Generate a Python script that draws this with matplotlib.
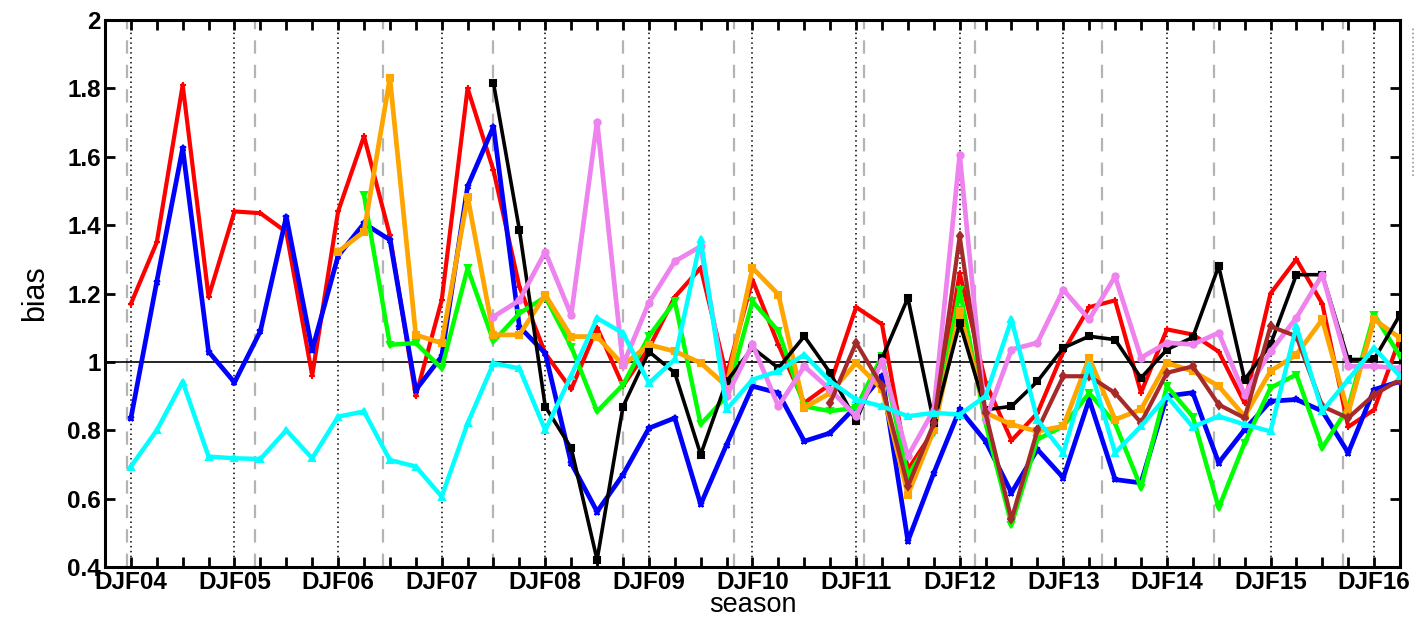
import numpy as np
import matplotlib
matplotlib.use("Agg")
import matplotlib.pyplot as plt
from matplotlib.lines import Line2D

plt.rcParams['font.family'] = ['Liberation Sans', 'DejaVu Sans']

# season index 0 = DJF04, one step per season, 49 = MAM16
n_seasons = 50
tick_labels = ['DJF04', 'DJF05', 'DJF06', 'DJF07', 'DJF08', 'DJF09', 'DJF10',
               'DJF11', 'DJF12', 'DJF13', 'DJF14', 'DJF15', 'DJF16']

# positions (in season index) of the grey dashed marker lines
change_points = [-0.15, 4.79, 9.73, 14.0, 19.0, 23.3, 28.3, 32.6, 37.5, 41.8, 46.8]

red = [1.17, 1.35, 1.81, 1.19, 1.44, 1.435, 1.38, 0.96, 1.44, 1.66,
       1.37, 0.90, 1.18, 1.80, 1.56, 1.22, 1.025, 0.92, 1.10, 0.93,
       1.04, 1.19, 1.275, 0.96, 1.24, 1.05, 0.88, 0.935, 1.16, 1.11,
       0.685, 0.80, 1.26, 0.94, 0.77, 0.85, 1.03, 1.16, 1.18, 0.91,
       1.095, 1.08, 1.03, 0.88, 1.20, 1.30, 1.17, 0.81, 0.86, 1.07]
blue = [0.835, 1.235, 1.625, 1.03, 0.94, 1.09, 1.425, 1.035, 1.31, 1.405,
        1.357, 0.918, 1.016, 1.513, 1.688, 1.103, 1.025, 0.704, 0.562, 0.67,
        0.806, 0.836, 0.583, 0.758, 0.929, 0.909, 0.768, 0.792, 0.87, 0.958,
        0.476, 0.675, 0.861, 0.768, 0.617, 0.744, 0.661, 0.89, 0.656, 0.646,
        0.90, 0.91, 0.705, 0.802, 0.885, 0.89, 0.856, 0.734, 0.919, 0.943]
cyan = [0.694, 0.80, 0.942, 0.723, 0.718, 0.716, 0.80, 0.718, 0.84, 0.855,
        0.713, 0.694, 0.606, 0.82, 0.996, 0.981, 0.80, 0.96, 1.128, 1.084,
        0.938, 1.007, 1.358, 0.861, 0.948, 0.973, 1.021, 0.943, 0.89, 0.87,
        0.841, 0.851, 0.846, 0.90, 1.124, 0.831, 0.734, 0.992, 0.734, 0.812,
        0.90, 0.81, 0.841, 0.817, 0.797, 1.104, 0.856, 0.948, 1.041, 0.958]
green_start = 9
green = [1.488, 1.05, 1.055, 0.981, 1.274, 1.06, 1.142, 1.19, 1.045, 0.855,
         0.933, 1.075, 1.177, 0.817, 0.90, 1.177, 1.09, 0.87, 0.856, 0.866,
         1.017, 0.666, 0.792, 1.211, 0.82, 0.524, 0.773, 0.812, 0.909, 0.82,
         0.632, 0.929, 0.84, 0.573, 0.763, 0.924, 0.963, 0.749, 0.866, 1.138,
         1.017]
orange_start = 8
orange = [1.322, 1.381, 1.83, 1.079, 1.055, 1.483, 1.079, 1.079, 1.196, 1.074,
          1.074, 0.991, 1.05, 1.031, 0.997, 0.929, 1.275, 1.197, 0.866, 0.909,
          0.997, 0.92, 0.612, 0.80, 1.148, 0.851, 0.817, 0.797, 0.812, 1.012,
          0.831, 0.861, 0.997, 0.973, 0.929, 0.841, 0.973, 1.021, 1.124, 0.851,
          1.124, 1.07]
black_start = 14
black = [1.815, 1.386, 0.869, 0.748, 0.421, 0.869, 1.03, 0.968, 0.729, 0.943,
         1.041, 0.982, 1.075, 0.968, 0.827, 1.01, 1.187, 0.822, 1.114, 0.86,
         0.87, 0.943, 1.041, 1.075, 1.065, 0.953, 1.036, 1.072, 1.28, 0.948,
         1.051, 1.255, 1.255, 1.007, 1.007, 1.138]
violet_start = 14
violet = [1.132, 1.18, 1.322, 1.137, 1.703, 0.991, 1.173, 1.294, 1.338, 0.90,
          1.051, 0.87, 0.987, 0.919, 0.841, 1.002, 0.724, 0.86, 1.606, 0.83,
          1.036, 1.056, 1.211, 1.124, 1.25, 1.012, 1.056, 1.051, 1.085, 0.904,
          1.031, 1.129, 1.255, 0.987, 0.987, 0.982]
brown_start = 27
brown = [0.88, 1.056, 0.929, 0.636, 0.82, 1.367, 0.85, 0.539, 0.80, 0.958,
         0.958, 0.909, 0.822, 0.968, 0.987, 0.875, 0.836, 1.104, 1.075, 0.87,
         0.836, 0.904, 0.948]

# start, values, colour, marker, line width
series = [
    (0, red, '#ff0000', '+', 3.0),
    (0, blue, '#0000ff', '*', 3.4),
    (green_start, green, '#00ff00', 'v', 3.2),
    (orange_start, orange, '#ffa500', 's', 3.4),
    (black_start, black, '#000000', 's', 2.6),
    (violet_start, violet, '#ee82ee', 'o', 3.4),
    (brown_start, brown, '#a52a2a', 'd', 3.0),
    (0, cyan, '#00ffff', '^', 3.2),
]

fig = plt.figure(figsize=(14.15, 6.17), dpi=100)
ax = fig.add_axes([0.0742, 0.081, 0.9152, 0.8866])

for i in range(0, n_seasons, 4):
    ax.axvline(i, color='black', lw=1.1, ls=(0, (1, 2.2)), zorder=1)
for cp in change_points:
    ax.axvline(cp, color='#b4b4b4', lw=1.6, ls=(0, (6, 5)), zorder=1)
ax.axhline(1, color='black', lw=1.2, zorder=2)

for start, vals, col, mk, lw in series:
    x = np.arange(start, start + len(vals))
    ax.plot(x, vals, color=col, lw=lw, marker=mk, ms=4.5, mew=1.5,
            mec=col, mfc=col, zorder=3)

ax.set_xlim(-1, 49)
ax.set_ylim(0.4, 2.0)
ax.set_xticks(np.arange(0, n_seasons))
ax.set_xticklabels([tick_labels[i // 4] if i % 4 == 0 else '' for i in range(n_seasons)])
ax.set_yticks(np.arange(0.4, 2.01, 0.2))
ax.set_yticklabels(['%g' % round(v, 1) for v in np.arange(0.4, 2.01, 0.2)])
ax.tick_params(direction='in', length=7, width=2, top=True, right=True,
               labelsize=17.5, pad=3)
for lab in ax.get_xticklabels() + ax.get_yticklabels():
    lab.set_fontweight('bold')
for sp in ax.spines.values():
    sp.set_linewidth(2.2)

ax.set_xlabel('season', fontsize=19.5, labelpad=-1.5)
ax.set_ylabel('bias', fontsize=22, labelpad=12)

# left edge of the clipped legend frame at the right border
fig.add_artist(Line2D([0.9985, 0.9985], [0.715, 0.955], color='#999999',
                      lw=1.2, ls=(0, (1, 1.5))))

fig.savefig('out.png', dpi=100)
